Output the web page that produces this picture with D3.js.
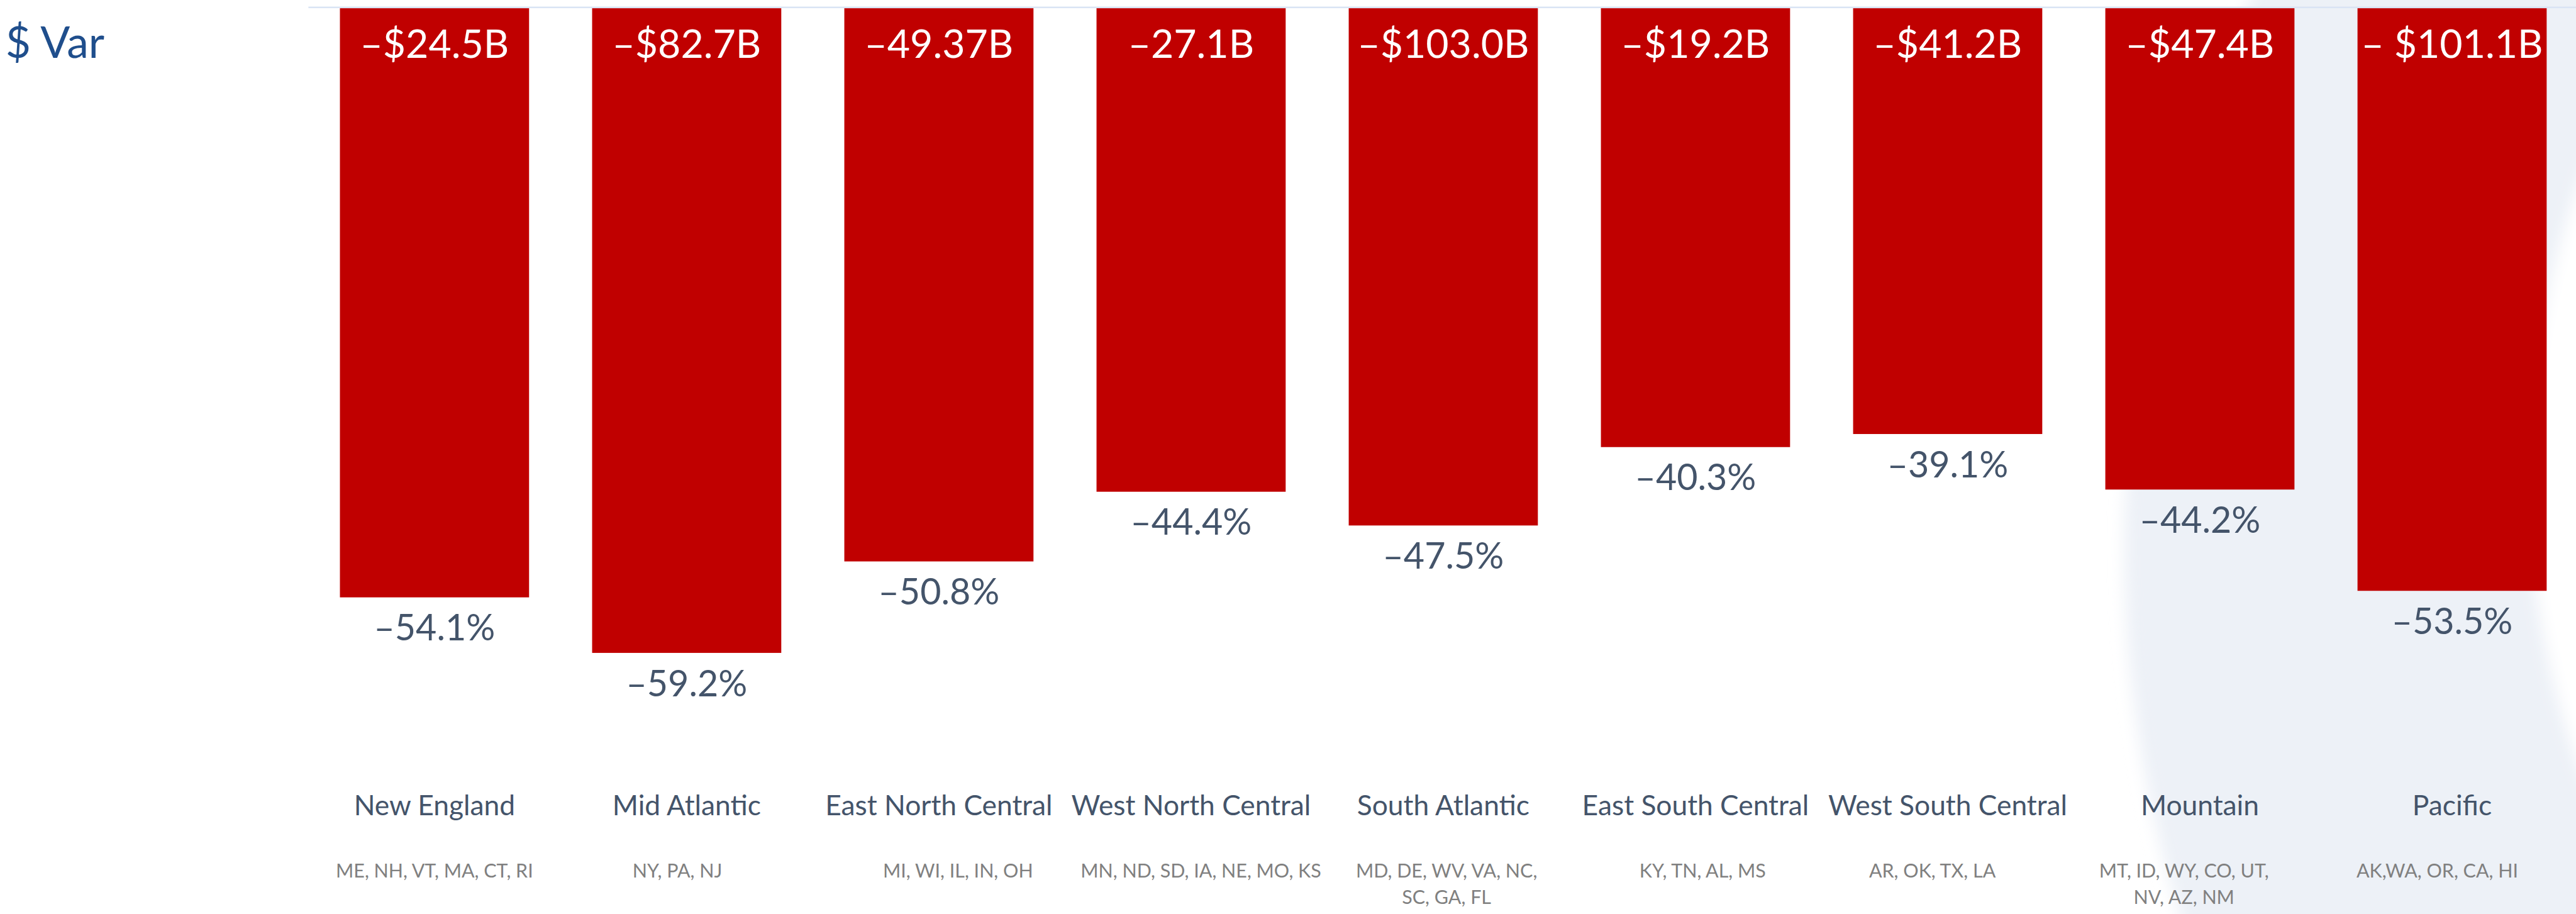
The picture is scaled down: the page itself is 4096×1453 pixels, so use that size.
<!DOCTYPE html>
<html>
<head>
<meta charset="utf-8">
<script src="https://cdn.jsdelivr.net/npm/d3@7"></script>
<style>
  html, body { margin: 0; padding: 0; background: #ffffff; overflow: hidden; }
  svg { display: block; }
  text { font-family: Lato, "Noto Sans", sans-serif; }
</style>
</head>
<body>
<div id="chart"></div>
<script>
// Census divisions and their year-over-year change
const regions = [
  "New England", "Mid Atlantic", "East North Central", "West North Central",
  "South Atlantic", "East South Central", "West South Central", "Mountain", "Pacific"
];
const states = [
  ["ME, NH, VT, MA, CT, RI"],
  ["NY, PA, NJ"],
  ["MI, WI, IL, IN, OH"],
  ["MN, ND, SD, IA, NE, MO, KS"],
  ["MD, DE, WV, VA, NC,", "SC, GA, FL"],
  ["KY, TN, AL, MS"],
  ["AR, OK, TX, LA"],
  ["MT, ID, WY, CO, UT,", "NV, AZ, NM"],
  ["AK,WA, OR, CA, HI"]
];
const dollarVar = [
  "–$24.5B", "–$82.7B", "–49.37B", "–27.1B", "–$103.0B",
  "–$19.2B", "–$41.2B", "–$47.4B", "– $101.1B"
];
const pctChange = [-54.1, -59.2, -50.8, -44.4, -47.5, -40.3, -39.1, -44.2, -53.5];
const axisTitle = "$ Var";

// layout (drawn in a 4711 x 1671 coordinate space, scaled to the window)
const W = 4711, H = 1671;
const stateNudge = [0, -17, 35, 18, 6, 13, -28, -29, -27];

const svg = d3.select("#chart").append("svg")
  .attr("width", 4096).attr("height", 1453)
  .attr("viewBox", `0 0 ${W} ${H}`);

// soft decorative ring in the background on the right
const defs = svg.append("defs");
defs.append("filter").attr("id", "soft")
  .attr("x", "-20%").attr("y", "-20%").attr("width", "140%").attr("height", "140%")
  .append("feGaussianBlur").attr("stdDeviation", 14);
const deco = svg.append("g").attr("filter", "url(#soft)");
deco.append("circle").attr("cx", 6174).attr("cy", 1000).attr("r", 2289).attr("fill", "#edf1f7");
deco.append("circle").attr("cx", 6225).attr("cy", 869).attr("r", 1600).attr("fill", "#ffffff");

const x = d3.scaleBand()
  .domain(regions)
  .range([564, W + 4])
  .paddingInner(0.25)
  .paddingOuter(0.125);

const y = d3.scaleLinear()
  .domain([0, -60])
  .range([15, 15 + 19.91 * 60]);

const data = regions.map((r, i) => ({
  region: r, pct: pctChange[i], dollar: dollarVar[i], states: states[i], nudge: stateNudge[i]
}));

// zero line across the plot
svg.append("line")
  .attr("x1", x.range()[0]).attr("x2", W)
  .attr("y1", y(0) - 1.5).attr("y2", y(0) - 1.5)
  .attr("stroke", "#dae4f4").attr("stroke-width", 3);

// bars
svg.append("g").selectAll("rect").data(data).join("rect")
  .attr("x", d => x(d.region))
  .attr("y", y(0))
  .attr("width", x.bandwidth())
  .attr("height", d => y(d.pct) - y(0))
  .attr("fill", "#c00000");

// dollar variance inside the top of each bar
svg.append("g").selectAll("text").data(data).join("text")
  .attr("x", d => x(d.region) + x.bandwidth() / 2)
  .attr("y", 106)
  .attr("text-anchor", "middle")
  .attr("font-size", 72)
  .attr("fill", "#ffffff")
  .text(d => d.dollar);

// percent change below each bar
svg.append("g").selectAll("text").data(data).join("text")
  .attr("x", d => x(d.region) + x.bandwidth() / 2)
  .attr("y", d => y(d.pct) + 79)
  .attr("text-anchor", "middle")
  .attr("font-size", 66)
  .attr("fill", "#44546a")
  .text(d => "–" + Math.abs(d.pct).toFixed(1) + "%");

// division names
svg.append("g").selectAll("text").data(data).join("text")
  .attr("x", d => x(d.region) + x.bandwidth() / 2)
  .attr("y", 1491)
  .attr("text-anchor", "middle")
  .attr("font-size", 51)
  .attr("fill", "#44546a")
  .text(d => d.region);

// member states
const st = svg.append("g").selectAll("text").data(data).join("text")
  .attr("text-anchor", "middle")
  .attr("font-size", 35)
  .attr("fill", "#808080");
st.selectAll("tspan").data(d => d.states.map(s => ({ s, d }))).join("tspan")
  .attr("x", o => x(o.d.region) + x.bandwidth() / 2 + o.d.nudge)
  .attr("y", (o, i) => 1604 + i * 49)
  .text(o => o.s);

// axis title
svg.append("text")
  .attr("x", 10).attr("y", 106)
  .attr("font-size", 80)
  .attr("fill", "#1f4e8c")
  .text(axisTitle);
</script>
</body>
</html>
